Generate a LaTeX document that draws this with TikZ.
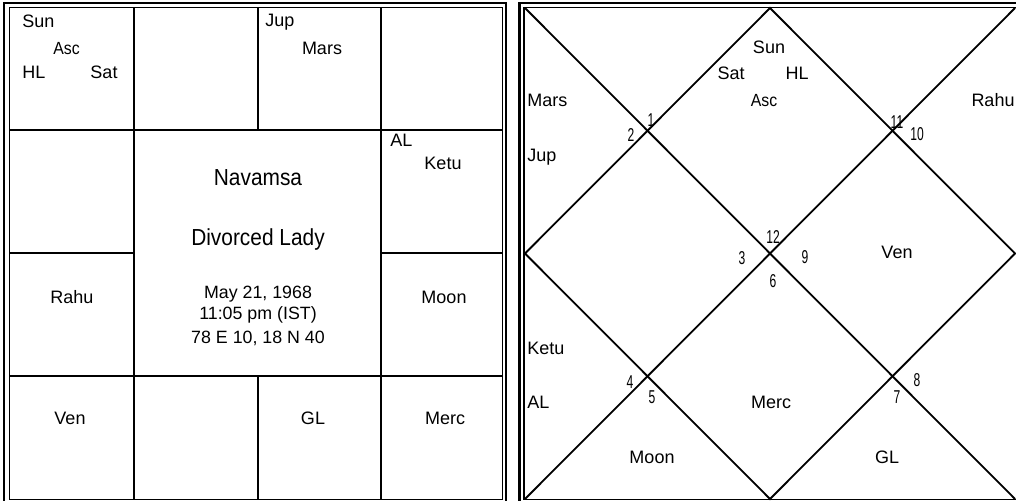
\documentclass[tikz,border=0pt]{standalone}
\usepackage{fontspec}
\usepackage{graphicx}
\setmainfont{Liberation Sans}
\newcommand\narrowtxt[2]{\scalebox{#1}[1]{#2}}
\begin{document}
\begin{tikzpicture}[x=0.5pt,y=-0.5pt,
  frameout/.style={line width=1.3pt},
  framein/.style={line width=0.6pt},
  gridline/.style={line width=1pt},
  diag/.style={line width=0.9pt},
  lbl/.style={inner sep=0pt, text height=6.4pt, text depth=0pt, font=\fontsize{9}{10}\selectfont},
  sml/.style={inner sep=0pt, text height=6.3pt, text depth=0pt, font=\fontsize{8.8}{9}\selectfont},
  num/.style={inner sep=0pt, text height=6.6pt, text depth=0pt, font=\fontsize{9.3}{10}\selectfont},
  title/.style={inner sep=0pt, text height=8.3pt, text depth=0pt, font=\fontsize{11.6}{12}\selectfont},
  info/.style={inner sep=0pt, text height=6.4pt, text depth=0pt, font=\fontsize{8.9}{10}\selectfont}]
\useasboundingbox (0,0) rectangle (1016,501);
\clip (0,0) rectangle (1016,501);
\fill[white] (0,0) rectangle (1016,501);
% ---------- left chart (South Indian) ----------
\draw[frameout] (4,3) rectangle (506,505);
\draw[framein] (9.5,7.5) rectangle (502.5,499.5);
\draw[gridline] (134,7.5) -- (134,499.5);
\draw[gridline] (381,7.5) -- (381,499.5);
\draw[gridline] (258,7.5) -- (258,130);
\draw[gridline] (258,376) -- (258,499.5);
\draw[gridline] (9.5,130) -- (502.5,130);
\draw[gridline] (9.5,376) -- (502.5,376);
\draw[gridline] (9.5,253) -- (134,253);
\draw[gridline] (381,253) -- (502.5,253);
\node[lbl,anchor=west] (lsun) at (22,21) {Sun};
\node[sml,anchor=west] (lasc) at (53,48) {\narrowtxt{0.9}{Asc}};
\node[lbl,anchor=west] (lhl) at (22,72) {HL};
\node[lbl] (lsat) at (104,72) {Sat};
\node[lbl,anchor=west] (ljup) at (265,20) {Jup};
\node[lbl] (lmars) at (322,48) {Mars};
\node[lbl,anchor=west] (lal) at (390,140) {AL};
\node[lbl] (lketu) at (443,163) {Ketu};
\node[lbl] (lrahu) at (72,297) {Rahu};
\node[lbl] (lmoon) at (444,297) {Moon};
\node[lbl] (lven) at (70,418) {Ven};
\node[lbl] (lgl) at (313,418) {GL};
\node[lbl] (lmerc) at (445,418) {Merc};
\node[title] (tnav) at (258,177) {\narrowtxt{0.9}{Navamsa}};
\node[title] (tdiv) at (258,237) {\narrowtxt{0.9}{Divorced Lady}};
\node[info] (tdate) at (258,292) {May 21, 1968};
\node[info] (ttime) at (258,313) {11:05 pm (IST)};
\node[info] (tplace) at (258,337) {78 E 10, 18 N 40};
% ---------- right chart (North Indian) ----------
\draw[frameout] (519.5,3) rectangle (1022,505);
\draw[framein] (524,7.5) rectangle (1018,499.5);
\coordinate (tl) at (525,8);
\coordinate (tr) at (1015,8);
\coordinate (bl) at (525,499);
\coordinate (br) at (1015,499);
\coordinate (tm) at (770,8);
\coordinate (bm) at (770,499);
\coordinate (lm) at (525,253.5);
\coordinate (rm) at (1015,253.5);
\draw[diag] (tl) -- (br);
\draw[diag] (tr) -- (bl);
\draw[diag] (tm) -- (rm) -- (bm) -- (lm) -- cycle;
\node[lbl] (rsun) at (769,47) {Sun};
\node[lbl] (rsat) at (731,73) {Sat};
\node[lbl] (rhl) at (797,73) {HL};
\node[sml] (rasc) at (764,100) {\narrowtxt{0.9}{Asc}};
\node[lbl,anchor=west] (rmars) at (527,100) {Mars};
\node[lbl,anchor=west] (rjup) at (527,155) {Jup};
\node[lbl] (rrahu) at (993,100) {Rahu};
\node[lbl] (rven) at (897,252) {Ven};
\node[lbl,anchor=west] (rketu) at (527,348) {Ketu};
\node[lbl,anchor=west] (ral) at (527,402) {AL};
\node[lbl] (rmoon) at (652,457) {Moon};
\node[lbl] (rmerc) at (771,402) {Merc};
\node[lbl] (rgl) at (887,457) {GL};
\node[num] (n1) at (651,120) {\narrowtxt{0.65}{1}};
\node[num] (n2) at (631,135) {\narrowtxt{0.65}{2}};
\node[num] (n11) at (897,122) {\narrowtxt{0.65}{11}};
\node[num] (n10) at (917,134) {\narrowtxt{0.65}{10}};
\node[num] (n12) at (773,237) {\narrowtxt{0.65}{12}};
\node[num] (n9) at (805,257) {\narrowtxt{0.65}{9}};
\node[num] (n3) at (742,258) {\narrowtxt{0.65}{3}};
\node[num] (n6) at (773,281) {\narrowtxt{0.65}{6}};
\node[num] (n4) at (630,382) {\narrowtxt{0.65}{4}};
\node[num] (n5) at (652,397) {\narrowtxt{0.65}{5}};
\node[num] (n8) at (917,380) {\narrowtxt{0.65}{8}};
\node[num] (n7) at (897,397) {\narrowtxt{0.65}{7}};
\end{tikzpicture}
\end{document}
